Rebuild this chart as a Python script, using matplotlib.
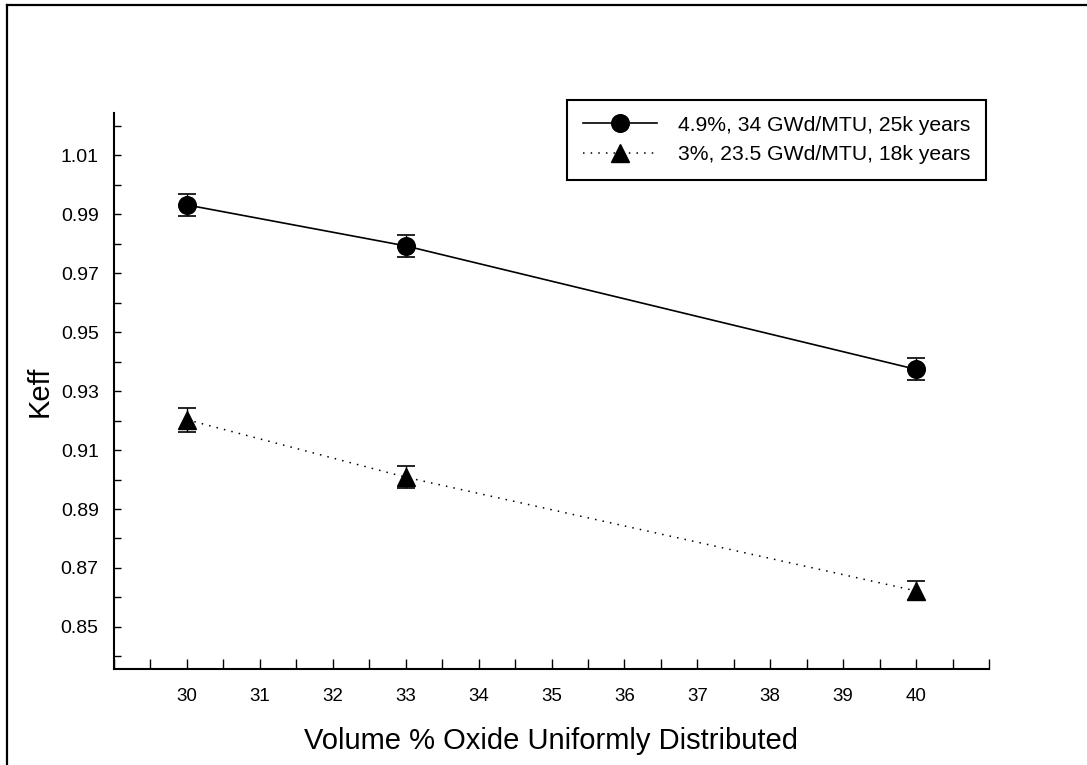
import matplotlib
matplotlib.use('Agg')
import matplotlib.pyplot as plt
from matplotlib.lines import Line2D
from matplotlib.ticker import MultipleLocator, FormatStrFormatter

plt.rcParams['font.family'] = ['Liberation Sans', 'DejaVu Sans']

# Keff vs. oxide volume fraction
volume_pct = [30, 33, 40]

keff_high = [0.9932, 0.9793, 0.9374]
err_high = [0.0038, 0.0038, 0.0037]
label_high = "4.9%, 34 GWd/MTU, 25k years"

keff_low = [0.9203, 0.9008, 0.8622]
err_low = [0.0041, 0.0038, 0.0032]
label_low = "3%, 23.5 GWd/MTU, 18k years"

x_ticks = list(range(30, 41))

fig = plt.figure(figsize=(10.87, 7.65), dpi=100)
fig.patch.set_facecolor('white')

# page frame: left and top edges only
fig.add_artist(Line2D([7 / 1087, 7 / 1087], [0, 1 - 5 / 765], color='black', lw=1.6,
                      transform=fig.transFigure))
fig.add_artist(Line2D([7 / 1087, 1], [1 - 5 / 765, 1 - 5 / 765], color='black', lw=1.6,
                      transform=fig.transFigure))

ax = fig.add_axes([114 / 1087, 1 - 669 / 765, 875 / 1087, 556 / 765])

ms = 12.7
ax.errorbar(volume_pct, keff_high, yerr=err_high, fmt='none', ecolor='black',
            elinewidth=1.0, capsize=6.8, capthick=1.2, zorder=3)
ax.plot(volume_pct, keff_high, color='black', lw=1.2, ls='-',
        marker='o', markersize=ms, zorder=4)

ax.errorbar(volume_pct, keff_low, yerr=err_low, fmt='none', ecolor='black',
            elinewidth=1.0, capsize=6.8, capthick=1.2, zorder=3)
ax.plot(volume_pct, keff_low, color='black', lw=1.1, ls=(0, (1, 4)),
        marker='^', markersize=ms, zorder=4)

ax.set_xlim(29, 41)
ax.set_ylim(0.8357, 1.0244)

ax.set_xticks(x_ticks)
ax.xaxis.set_minor_locator(MultipleLocator(0.5))
ax.set_yticks([0.85, 0.87, 0.89, 0.91, 0.93, 0.95, 0.97, 0.99, 1.01])
ax.yaxis.set_minor_locator(MultipleLocator(0.01))
ax.yaxis.set_major_formatter(FormatStrFormatter('%.2f'))

ax.spines['top'].set_visible(False)
ax.spines['right'].set_visible(False)
for side in ('left', 'bottom'):
    ax.spines[side].set_linewidth(1.5)

ax.tick_params(axis='x', which='both', direction='in', length=7, width=1.0,
               pad=14, labelsize=13.5)
ax.tick_params(axis='y', which='both', direction='in', length=5, width=1.0,
               pad=11, labelsize=14)

ax.set_xlabel("Volume % Oxide Uniformly Distributed", fontsize=21)
ax.xaxis.set_label_coords(0.5, (669 - 741) / 556)
ax.xaxis.label.set_va('center')
ax.set_ylabel("Keff", fontsize=21)
ax.yaxis.set_label_coords((40 - 114) / 875, 0.5)
ax.yaxis.label.set_va('center')

handles = [
    Line2D([], [], color='black', lw=1.2, ls='-', marker='o', markersize=ms),
    Line2D([], [], color='black', lw=1.1, ls=(0, (1, 4)), marker='^', markersize=ms),
]
leg = ax.legend(handles, [label_high, label_low], loc='upper right',
                bbox_to_anchor=(986 / 1087, 1 - 100 / 765),
                bbox_transform=fig.transFigure, fontsize=15.2,
                frameon=True, fancybox=False, framealpha=1, edgecolor='black',
                handlelength=3.5, handletextpad=1.0, labelspacing=0.5,
                borderpad=0.75, borderaxespad=0)
leg.get_frame().set_linewidth(1.5)

fig.savefig('out.png', dpi=100, facecolor='white')
